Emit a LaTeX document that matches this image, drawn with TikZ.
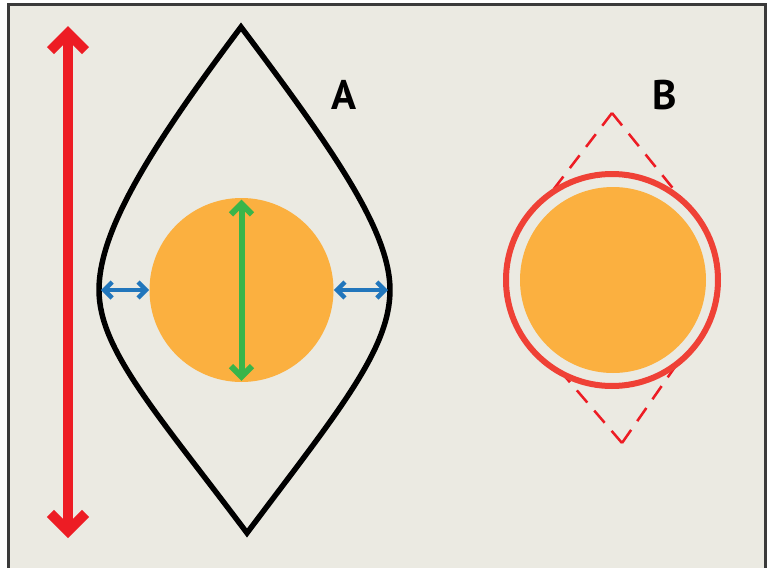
\documentclass[tikz,border=0pt]{standalone}
\usepackage{fontspec}
\setmainfont{PT Sans}
\usetikzlibrary{arrows.meta}
\tikzset{>={Straight Barb[sharp,length=0pt 1.75,width=0pt 3.5]}}
\definecolor{paper}{HTML}{EBEAE2}
\definecolor{framegray}{HTML}{3A3A3A}
\definecolor{arrowred}{HTML}{ED1C24}
\definecolor{ringred}{HTML}{EF4136}
\definecolor{sunorange}{HTML}{FBB040}
\definecolor{gapblue}{HTML}{2176BC}
\definecolor{sizegreen}{HTML}{39B54A}

\begin{document}
\begin{tikzpicture}[
    x=0.75pt, y=-0.75pt,
    sundisk/.style={circle, fill=sunorange, inner sep=0pt, minimum size=138pt},
    halo/.style={circle, draw=ringred, line width=4.5pt, inner sep=0pt, minimum size=159pt},
    letter/.style={font=\bfseries\fontsize{31}{31}\selectfont, inner sep=0pt},
    lensline/.style={draw=black, line width=4.1pt, line join=miter},
    conedash/.style={arrowred, line width=1.9pt, dash pattern=on 12pt off 8pt}
]
\useasboundingbox (0,0) rectangle (769,568);
\fill[white] (0,0) rectangle (769,568);
\fill[paper] (8.5,4) rectangle (765,568);
\draw[framegray, line width=2.25pt] (8.5,568) -- (8.5,4) -- (765,4) -- (765,568);

% big red scale arrow
\coordinate (scaleTop) at (68,26);
\coordinate (scaleBot) at (68,538);
\draw[<->, arrowred, line width=7.5pt] (scaleTop) -- (scaleBot);

% lens A
\coordinate (lensTop) at (241,27);
\coordinate (lensL) at (99,290);
\coordinate (lensBot) at (247,533);
\coordinate (lensR) at (390,290);
\draw[lensline] (lensTop) .. controls (151,147) and (99,230) .. (lensL)
    .. controls (99,350) and (157,413) .. (lensBot)
    .. controls (337,413) and (390,350) .. (lensR)
    .. controls (390,230) and (331,147) .. cycle;
\node[sundisk] (diskA) at (241.5,290) {};
\draw[<->, gapblue, line width=3.4pt, shorten <=1.5pt] (lensL) -- (diskA.west);
\draw[<->, gapblue, line width=3.4pt, shorten >=1.5pt] (diskA.east) -- (lensR);
\draw[<->, sizegreen, line width=4.5pt, shorten <=1.5pt, shorten >=1pt] (diskA.north) -- (diskA.south);
\node[letter] (labA) at (344,95) {A};

% B
\coordinate (coneTop) at (612,113);
\coordinate (coneBot) at (622,443);
\coordinate (ringUL) at (550,194);
\coordinate (ringUR) at (684,202);
\coordinate (ringLL) at (562,373);
\coordinate (ringLR) at (677,364);
\draw[conedash] (coneTop) -- (ringUL);
\draw[conedash] (coneTop) -- (ringUR);
\draw[conedash] (coneBot) -- (ringLL);
\draw[conedash] (coneBot) -- (ringLR);
\node[halo] (ringB) at (612,280) {};
\node[sundisk, minimum size=139.5pt] (diskB) at (613,280) {};
\node[letter] (labB) at (665,95) {B};
\end{tikzpicture}
\end{document}
